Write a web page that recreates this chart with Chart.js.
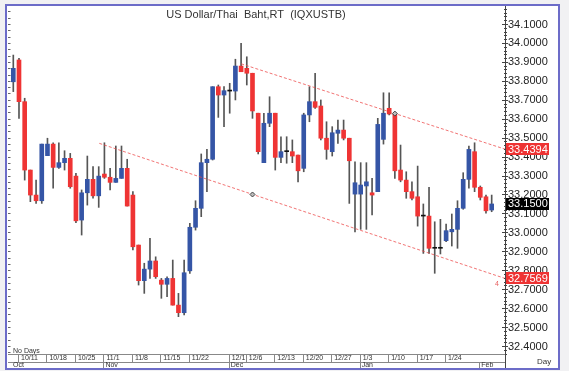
<!DOCTYPE html>
<html lang="en">
<head>
<meta charset="UTF-8">
<title>US Dollar/Thai Baht</title>
<script src="https://cdn.jsdelivr.net/npm/chart.js"></script>
<style>
  body { margin: 0; background: #fff; }
  #wrap { width: 569px; height: 379px; }
</style>
</head>
<body>
<div id="wrap"><canvas id="fx" width="569" height="379"></canvas></div>
<script>
// daily candles, 2021-10-08 .. 2022-02-03
const dates = ['10/8',
  '10/11','10/12','10/13','10/14','10/15', '10/18','10/19','10/20','10/21','10/22',
  '10/25','10/26','10/27','10/28','10/29', '11/1','11/2','11/3','11/4','11/5',
  '11/8','11/9','11/10','11/11','11/12', '11/15','11/16','11/17','11/18','11/19',
  '11/22','11/23','11/24','11/25','11/26', '11/29','11/30','12/1','12/2','12/3',
  '12/6','12/7','12/8','12/9','12/10', '12/13','12/14','12/15','12/16','12/17',
  '12/20','12/21','12/22','12/23','12/24', '12/27','12/28','12/29','12/30','12/31',
  '1/3','1/4','1/5','1/6','1/7', '1/10','1/11','1/12','1/13','1/14',
  '1/17','1/18','1/19','1/20','1/21', '1/24','1/25','1/26','1/27','1/28',
  '1/31','2/1','2/2','2/3'];
const opens = [33.795,
  33.910,33.690,33.329,33.197,33.167, 33.405,33.466,33.343,33.368,33.391,
  33.297,33.065,33.209,33.280,33.193, 33.308,33.291,33.264,33.285,33.338,
  33.197,32.933,32.745,32.806,32.849, 32.748,32.726,32.757,32.616,32.576,
  32.797,33.027,33.127,33.368,33.386, 33.769,33.725,33.746,33.746,33.878,
  33.866,33.840,33.629,33.368,33.576, 33.629,33.396,33.426,33.426,33.408,
  33.338,33.620,33.690,33.667,33.497, 33.426,33.523,33.540,33.497,33.202,
  33.202,33.245,33.209,33.215,33.491, 33.655,33.625,33.329,33.276,33.215,
  33.188,33.086,33.086,32.916,32.916, 32.956,33.003,33.016,33.127,33.280,
  33.426,33.238,33.188,33.118];
const highs = [33.936,
  33.919,33.708,33.329,33.276,33.466, 33.497,33.473,33.473,33.431,33.417,
  33.312,33.224,33.403,33.347,33.347, 33.473,33.338,33.456,33.456,33.386,
  33.215,32.933,32.837,32.969,32.871, 32.757,32.766,32.854,32.678,32.854,
  33.048,33.167,33.414,33.438,33.769, 33.778,33.769,33.787,33.914,33.998,
  33.927,33.840,33.629,33.629,33.716, 33.629,33.505,33.505,33.488,33.408,
  33.629,33.769,33.840,33.699,33.584, 33.558,33.593,33.593,33.497,33.373,
  33.368,33.368,33.285,33.602,33.737, 33.737,33.625,33.461,33.320,33.267,
  33.350,33.150,33.238,33.056,33.069, 33.044,33.097,33.167,33.315,33.456,
  33.473,33.245,33.197,33.197];
const lows = [33.743,
  33.602,33.276,33.162,33.153,33.153, 33.405,33.233,33.338,33.329,33.233,
  33.051,32.986,33.144,33.180,33.132, 33.285,33.224,33.264,33.285,33.139,
  32.907,32.722,32.678,32.757,32.757, 32.652,32.660,32.616,32.555,32.564,
  32.784,33.012,33.083,33.215,33.382, 33.607,33.558,33.629,33.699,33.848,
  33.778,33.602,33.414,33.368,33.558, 33.329,33.368,33.365,33.368,33.267,
  33.320,33.584,33.655,33.488,33.386, 33.403,33.470,33.488,33.153,33.003,
  33.016,33.016,33.092,33.215,33.466, 33.620,33.285,33.267,33.180,33.171,
  33.033,32.889,32.889,32.784,32.886, 32.951,32.928,32.916,33.122,33.233,
  33.215,33.171,33.101,33.109];
const closes = [33.866,
  33.690,33.329,33.197,33.167,33.466, 33.466,33.343,33.368,33.391,33.241,
  33.061,33.209,33.280,33.193,33.297, 33.291,33.264,33.285,33.338,33.139,
  32.924,32.745,32.806,32.849,32.766, 32.726,32.757,32.616,32.576,32.787,
  33.027,33.127,33.368,33.386,33.769, 33.725,33.748,33.746,33.878,33.848,
  33.840,33.641,33.426,33.576,33.629, 33.396,33.426,33.426,33.403,33.325,
  33.620,33.690,33.660,33.497,33.438, 33.526,33.540,33.497,33.378,33.262,
  33.250,33.267,33.197,33.570,33.629, 33.625,33.325,33.276,33.215,33.180,
  33.086,33.086,32.916,32.916,32.916, 33.009,33.016,33.127,33.280,33.438,
  33.238,33.185,33.114,33.150];

const yTicks = [34.1, 34.0, 33.9, 33.8, 33.7, 33.6, 33.5, 33.4, 33.3, 33.2, 33.1, 33.0, 32.9, 32.8, 32.7, 32.6, 32.5, 32.4];
const dayTicks = ['10/11','10/18','10/25','11/1','11/8','11/15','11/22','12/1','12/6','12/13','12/20','12/27','1/3','1/10','1/17','1/24'];
const monthNames = ['Oct','Nov','Dec','Jan','Feb'];
const monthStarts = ['10/8','11/1','12/1','1/3','2/1'];

// channel lines: start date/value, value where they meet the price axis
const upperStart = '12/3', upperStartVal = 33.89, upperEndVal = 33.4394;
const lowerStart = '10/29', lowerStartVal = 33.47, lowerEndVal = 32.7569;
const markDates = ['1/11', '12/7'];
const markVals = [33.627, 33.200];

const flagVals = [33.4394, 33.1500, 32.7569];
const flagColors = ['#ee3333', '#000000', '#ee3333'];

const X_MIN = -0.93, X_MAX = 86.34;
const RED = '#ef3434', BLUE = '#3555a6';

const bodyColors = opens.map((o, i) => closes[i] > o ? BLUE : (closes[i] < o ? RED : '#111'));
const ix = d => dates.indexOf(d);

const decor = {
  id: 'decor',
  beforeDraw(chart) {
    const c = chart.ctx;
    c.save();
    c.fillStyle = '#f1f1f3';
    c.fillRect(0, 0, 569, 379);
    c.fillStyle = '#fff';
    c.fillRect(6, 5, 553, 365);
    c.fillRect(0, 371, 569, 8);
    c.restore();
  },
  afterDraw(chart) {
    const c = chart.ctx;
    const xs = chart.scales.x, ys = chart.scales.y;
    const area = chart.chartArea;
    c.save();

    // title
    c.fillStyle = '#333';
    c.font = '11px "Liberation Sans", Arial, sans-serif';
    c.textAlign = 'center';
    c.textBaseline = 'middle';
    c.fillText('US Dollar/Thai  Baht,RT  (IQXUSTB)', 256, 15);

    // left ruler
    c.strokeStyle = '#666';
    c.lineWidth = 1;
    c.beginPath();
    for (let k = 0; k * 0.1 / 3 + 32.36 <= ys.max; k++) {
      const y = Math.round(ys.getPixelForValue(32.3667 + k * 0.1 / 3)) + 0.5;
      c.moveTo(8, y); c.lineTo(10.5, y);
    }
    c.stroke();

    // right price axis
    c.strokeStyle = '#444';
    c.beginPath();
    c.moveTo(505.5, 6); c.lineTo(505.5, 369);
    for (let v = 32.36; v <= ys.max; v += 0.02) {
      const y = Math.round(ys.getPixelForValue(v)) + 0.5;
      c.moveTo(504, y); c.lineTo(507, y);
    }
    yTicks.forEach(v => {
      const y = Math.round(ys.getPixelForValue(v)) + 0.5;
      c.moveTo(502, y); c.lineTo(508, y);
    });
    c.stroke();
    c.fillStyle = '#222';
    c.font = '11px "Liberation Sans", Arial, sans-serif';
    c.textAlign = 'left';
    yTicks.forEach(v => c.fillText(v.toFixed(4), 508, ys.getPixelForValue(v) + 0.5));

    // price flags
    flagVals.forEach((v, i) => {
      const y = ys.getPixelForValue(v);
      c.fillStyle = flagColors[i];
      c.fillRect(506, Math.round(y) - 6, 43, 12);
      c.fillStyle = '#fff';
      c.fillText(v.toFixed(4), 508, y + 0.5);
    });

    c.fillStyle = '#333';
    c.font = '8px "Liberation Sans", Arial, sans-serif';
    c.fillText('Day', 537, 362);

    // "4" tag at lower channel end
    c.fillStyle = '#e86060';
    c.font = '7px "Liberation Sans", Arial, sans-serif';
    c.fillText('4', 495, ys.getPixelForValue(lowerEndVal) + 6);

    // date table
    const top = area.bottom, mid = top + 8, bot = 368;
    c.fillStyle = '#333';
    c.font = '7px "Liberation Sans", Arial, sans-serif';
    c.fillText('No Days', 13, top - 3);
    c.strokeStyle = '#888';
    c.beginPath();
    c.moveTo(area.left, top + 0.5); c.lineTo(area.right, top + 0.5);
    c.moveTo(area.left, mid + 0.5); c.lineTo(area.right, mid + 0.5);
    dayTicks.forEach(d => {
      const x = Math.round(xs.getPixelForValue(ix(d))) - 0.5;
      c.moveTo(x, top); c.lineTo(x, mid);
    });
    monthStarts.forEach((d, i) => {
      if (i === 0) return;
      const x = Math.round(xs.getPixelForValue(ix(d))) - 0.5;
      c.moveTo(x, mid); c.lineTo(x, bot);
    });
    c.stroke();
    c.fillStyle = '#333';
    dayTicks.forEach(d => c.fillText(d, xs.getPixelForValue(ix(d)) + 2, top + 4.5));
    monthNames.forEach((m, i) => {
      const x = i === 0 ? area.left + 5 : xs.getPixelForValue(ix(monthStarts[i])) + 1;
      c.fillText(m, x, mid + 3.5);
    });

    // outer frame
    c.strokeStyle = '#6c6cc8';
    c.lineWidth = 2;
    c.strokeRect(6, 5, 553, 364);
    c.restore();
  }
};

new Chart(document.getElementById('fx'), {
  data: {
    datasets: [
      {
        type: 'bar',
        data: dates.map((d, i) => ({ x: i, y: [lows[i], highs[i]] })),
        backgroundColor: '#555',
        barThickness: 1,
        grouped: false,
        order: 4
      },
      {
        type: 'bar',
        data: dates.map((d, i) => ({ x: i, y: [opens[i], closes[i]] })),
        backgroundColor: bodyColors,
        barThickness: 4,
        minBarLength: 1,
        grouped: false,
        order: 3
      },
      {
        type: 'line',
        data: [{ x: ix(upperStart), y: upperStartVal }, { x: X_MAX, y: upperEndVal }],
        borderColor: 'rgba(236,70,70,0.75)',
        borderWidth: 1,
        borderDash: [3, 2],
        pointRadius: 0,
        order: 2
      },
      {
        type: 'line',
        data: [{ x: ix(lowerStart) + 0.1, y: lowerStartVal }, { x: X_MAX, y: lowerEndVal }],
        borderColor: 'rgba(236,70,70,0.75)',
        borderWidth: 1,
        borderDash: [3, 2],
        pointRadius: 0,
        order: 2
      },
      {
        type: 'line',
        data: markDates.map((d, i) => ({ x: ix(d), y: markVals[i] })),
        showLine: false,
        pointStyle: 'rectRot',
        pointRadius: 2.5,
        pointBackgroundColor: '#bbb',
        pointBorderColor: '#444',
        pointBorderWidth: 1,
        order: 1
      }
    ]
  },
  options: {
    responsive: false,
    animation: false,
    layout: { padding: { left: 8, right: 64, top: 6, bottom: 25 } },
    scales: {
      x: { type: 'linear', min: X_MIN, max: X_MAX, offset: false, display: false },
      y: { min: 32.358, max: 34.195, display: false }
    },
    plugins: { legend: { display: false }, tooltip: { enabled: false } }
  },
  plugins: [decor]
});
</script>
</body>
</html>
